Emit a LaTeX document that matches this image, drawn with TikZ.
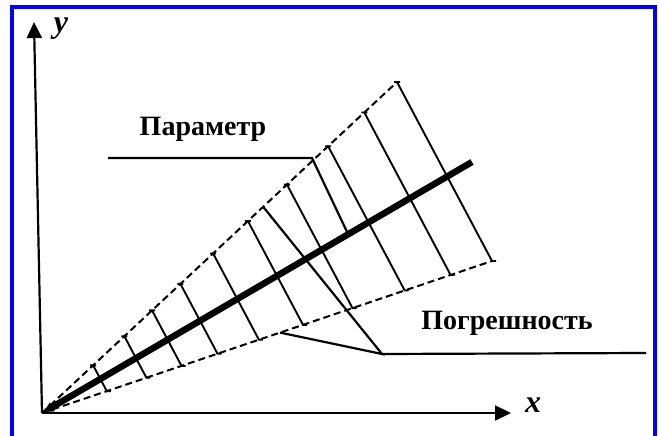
\documentclass[tikz,border=0pt]{standalone}
\usepackage{fontspec}
\setmainfont{Liberation Serif}
\usetikzlibrary{arrows.meta, calc}

\begin{document}
\begin{tikzpicture}[x=1pt,y=-1pt,font=\bfseries\fontsize{28}{30}\selectfont,
  axis/.style={line width=2.2pt,-{Triangle[length=16pt,width=15pt]}},
  bound/.style={line width=2pt,dash pattern=on 7pt off 4pt},
  hatch/.style={line width=1.9pt},
  leader/.style={line width=2.2pt},
  axlab/.style={font=\bfseries\itshape\fontsize{32}{34}\selectfont}]

\useasboundingbox (0,0) rectangle (659,436);

% --- Cornice
\draw[blue,line width=4.5pt] (12,7) rectangle (655,452);

% --- Assi
\coordinate (O) at (42,413);
\coordinate (ytip) at (34,22);
\coordinate (xtip) at (511,413);
\draw[axis] (O) -- (ytip);
\draw[axis] (O) -- (xtip);
\node[axlab] (ylab) at (61,29) {y};
\node[axlab] (xlab) at (533,405) {x};

% --- Retta del parametro e limiti
\coordinate (T) at (472,162);
\coordinate (U) at (397,82);
\coordinate (L) at (492,261);
\draw[bound] (O) -- (U);
\draw[bound] (O) -- (L);
\draw[line width=6.5pt,{Latex[length=12pt,width=11pt]}-] (O) -- (T);

% --- Tratteggio tra i limiti
\foreach \t in {0.144,0.232,0.31,0.39,0.482,0.58,0.69,0.806,0.908,1}{
  \draw[hatch] ($(O)!\t!(U)+(-3,0)$) -- ($(O)!\t!(U)+(3,0)$)
    ($(O)!\t!(U)$) -- ($(O)!\t!(L)$) -- ++(4,0);
}

% --- Etichette con richiami
\node (param) at (203,129) {Параметр};
\coordinate (p1) at (108,158);
\coordinate (p2) at (312,158);
\coordinate (p3) at ($(O)!0.712!(T)$);
\draw[leader] (p1) -- (p2) -- (p3);

\node (err) at (507,323) {Погрешность};
\coordinate (e0) at (382,354);
\coordinate (e1) at ($(O)!0.623!(U)$);
\coordinate (e2) at ($(O)!0.529!(L)$);
\coordinate (e3) at (646,353);
\draw[leader] (e1) -- (e0) -- (e2);
\draw[leader] (e0) -- (e3);

\end{tikzpicture}
\end{document}
